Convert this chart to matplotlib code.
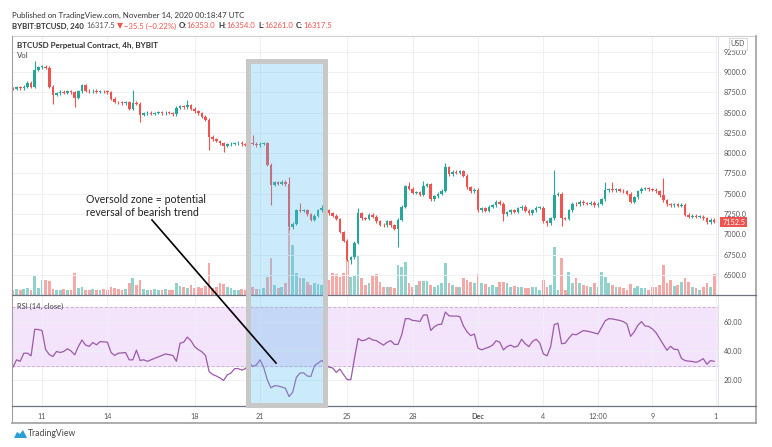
import numpy as np
import matplotlib
matplotlib.use("Agg")
import matplotlib.pyplot as plt
from matplotlib.patches import Rectangle, Polygon
from matplotlib.lines import Line2D

plt.rcParams['font.family'] = ['Lato', 'DejaVu Sans']

W, H = 772, 447

# BTCUSD 4h bars, first bar Nov 9 16:00 (x axis in day-of-November)
first_open = 8800
closes = [
    8790, 8810, 8800, 8820, 8870, 8820, 9030, 9060, 9065, 9050,
    8820, 8720, 8740, 8755, 8745, 8760, 8750, 8680, 8760, 8840,
    8770, 8760, 8770, 8755, 8765, 8760, 8750, 8670, 8630, 8625,
    8615, 8630, 8545, 8620, 8610, 8470, 8490, 8500, 8485, 8495,
    8505, 8490, 8500, 8495, 8480, 8560, 8575, 8565, 8590, 8545,
    8515, 8490, 8450, 8410, 8200, 8170, 8150, 8120, 8090, 8110,
    8115, 8120, 8130, 8110, 8105, 8125, 8115, 8100, 8115, 8120,
    7860, 7610, 7640, 7625, 7650, 7620, 7090, 7130, 7300, 7290,
    7300, 7250, 7180, 7230, 7300, 7320, 7300, 7260, 7230, 7190,
    7030, 6920, 6690, 6720, 6900, 7260, 7200, 7190, 7240, 7220,
    7160, 7120, 7110, 7160, 7110, 7070, 7180, 7340, 7590, 7560,
    7510, 7520, 7490, 7600, 7620, 7430, 7470, 7500, 7540, 7830,
    7740, 7770, 7760, 7775, 7720, 7580, 7530, 7550, 7300, 7320,
    7290, 7340, 7360, 7400, 7380, 7250, 7270, 7300, 7280, 7320,
    7340, 7290, 7260, 7300, 7330, 7330, 7160, 7140, 7200, 7485,
    7500, 7200, 7195, 7300, 7380, 7370, 7400, 7385, 7375, 7390,
    7360, 7380, 7430, 7545, 7550, 7545, 7555, 7540, 7530, 7500,
    7400, 7460, 7530, 7565, 7570, 7555, 7550, 7530, 7480, 7420,
    7370, 7360, 7370, 7355, 7365, 7240, 7220, 7230, 7215, 7220,
    7200, 7150, 7180, 7152.5,
]
wick_high = {6: 9135, 19: 8850, 33: 8780, 48: 8650, 66: 8230, 76: 7705,
             79: 7385, 85: 7360, 95: 7330, 109: 7645, 113: 7660, 119: 7880,
             149: 7790, 163: 7650, 165: 7640, 179: 7690}
wick_low = {11: 8600, 17: 8570, 35: 8380, 54: 8040, 58: 8010, 71: 7360,
            76: 7060, 93: 6640, 106: 6845, 135: 7160, 147: 7100, 151: 7100}
volumes = [
    5, 6, 5, 6, 7, 5, 20, 7, 15, 15,
    14, 6, 5, 5, 6, 5, 5, 22, 7, 8,
    5, 5, 6, 5, 5, 6, 5, 8, 7, 6,
    5, 6, 12, 17, 10, 15, 6, 5, 5, 6,
    5, 5, 6, 5, 5, 12, 9, 8, 7, 10,
    7, 8, 7, 9, 32, 7, 8, 12, 11, 8,
    7, 5, 5, 6, 5, 10, 8, 6, 6, 7,
    18, 37, 10, 7, 8, 12, 67, 50, 22, 17,
    17, 13, 10, 12, 11, 10, 7, 15, 22, 21,
    18, 22, 35, 18, 20, 40, 17, 10, 12, 19,
    21, 13, 8, 8, 8, 7, 30, 28, 33, 12,
    8, 10, 14, 14, 14, 10, 8, 10, 12, 32,
    12, 10, 8, 8, 17, 15, 13, 12, 21, 12,
    11, 8, 10, 8, 13, 13, 12, 8, 9, 8,
    8, 7, 7, 8, 8, 5, 15, 8, 10, 48,
    5, 37, 5, 23, 12, 17, 12, 10, 9, 8,
    12, 8, 23, 18, 12, 10, 8, 8, 7, 5,
    11, 7, 9, 7, 7, 5, 8, 8, 10, 30,
    12, 15, 9, 10, 13, 17, 13, 8, 7, 5,
    8, 12, 8, 21,
]
rsi = [
    29, 34, 33, 38.5, 38.5, 36.7, 54.8, 54.6, 54, 41,
    37.6, 36.3, 39.7, 39, 39.7, 41.5, 40, 37.4, 43, 47.5,
    44, 43.2, 45.8, 44.2, 46.4, 46.2, 46, 39, 37, 38.5,
    38.7, 39, 34, 34, 40.6, 33.6, 34, 33, 34, 35,
    36, 37, 38, 37.5, 37, 33, 45.3, 46, 49.5, 47,
    43, 41, 39.5, 37, 26, 24, 23, 21.6, 20, 23.8,
    25, 28, 28, 27, 28, 32, 29.5, 30.5, 34, 29,
    20.5, 15, 16.4, 16.2, 15.5, 14.6, 9, 12, 22, 25,
    25.2, 23, 22.7, 30, 31.8, 33.6, 31.2, 29, 28.5, 25.5,
    27.7, 24, 20.5, 20.5, 35, 48.5, 47, 47.5, 49, 47.5,
    47.1, 45.5, 44, 46, 47, 44.5, 44.5, 51, 62, 62,
    60.8, 60.6, 60, 64.5, 64.5, 54, 56.5, 58, 58.2, 66.5,
    64, 63.7, 63.8, 63.4, 57, 53, 50.5, 51.5, 42, 40.8,
    41.8, 42.6, 44, 47, 46, 40.8, 43, 44, 42.6, 43.5,
    48, 45, 43, 46.5, 48, 45.5, 38, 36.7, 43, 58,
    58.9, 45, 45.3, 48.7, 51.5, 51, 52.5, 53.9, 53.5, 53,
    52.3, 51.6, 56, 60.5, 62, 61.8, 61.3, 60.8, 60, 58.4,
    50, 53, 57.5, 60, 57, 56.7, 55, 52.5, 48.5, 44.5,
    40.5, 43.2, 41.2, 41, 35, 33.5, 33.1, 32.9, 32.3, 33.3,
    34.8, 31, 33.5, 33,
]
start_day = 9 + 16 / 24
bar_len = 4 / 24
time_ticks = [11, 14, 18, 21, 25, 28, 31, 34, 36.5, 39, 41.9]
time_labels = ['11', '14', '18', '21', '25', '28', 'Dec', '4', '12:00', '9', '1']
price_ticks = list(range(6500, 9251, 250))
rsi_ticks = [20, 40, 60]
last_price = 7152.5

# symbol line of the header: (text, colour, weight, gap after in px)
header_parts = [
    ('BYBIT:BTCUSD, 240', 'dark', 'bold', 3),
    ('16317.5', 'grey', 'normal', 1),
    ('\u25bc', 'red', 'normal', 1),
    ('\u221235.5 (\u22120.22%)', 'red', 'normal', 3),
    ('O:', 'dark', 'bold', 0), ('16353.0', 'red', 'normal', 3),
    ('H:', 'dark', 'bold', 0), ('16354.0', 'red', 'normal', 3),
    ('L:', 'dark', 'bold', 0), ('16261.0', 'red', 'normal', 3),
    ('C:', 'dark', 'bold', 0), ('16317.5', 'red', 'normal', 0),
]

UP, DOWN = '#26a69a', '#ef5350'
TXT = '#333333'
PALETTE = {'dark': TXT, 'grey': '#555555', 'red': DOWN}


def fx(x):
    return x / W


def fy(y):
    return 1 - y / H


def main():
    n = len(closes)
    t = start_day + bar_len * np.arange(n)
    c = np.array(closes, dtype=float)
    o = np.concatenate([[first_open], c[:-1]])
    hi = np.maximum(o, c) + 18
    lo = np.minimum(o, c) - 18
    for k, v in wick_high.items():
        hi[k] = v
    for k, v in wick_low.items():
        lo[k] = v
    cols = np.where(c >= o, UP, DOWN)

    fig = plt.figure(figsize=(W / 100, H / 100), dpi=100)
    fig.patch.set_facecolor('white')

    ax = fig.add_axes([fx(12), fy(295), 706 / W, 259 / H])
    axv = ax.twinx()
    ax.set_zorder(axv.get_zorder() + 1)
    ax.patch.set_visible(False)

    ## Volume
    axv.bar(t, volumes, width=bar_len * 0.75, color=cols, alpha=0.5, linewidth=0)
    axv.set_ylim(0, 259)
    axv.set_yticks([])
    for s in axv.spines.values():
        s.set_visible(False)

    ## Candles
    ax.vlines(t, lo, hi, colors=cols, linewidth=0.8)
    body = np.maximum(np.abs(c - o), 8)
    ax.bar(t, body, bottom=np.minimum(o, c), width=bar_len * 0.72, color=cols, linewidth=0)

    ax.set_xlim(9.624, 42.01)
    ax.set_ylim(6254, 9443)
    ax.set_xticks(time_ticks)
    ax.set_xticklabels([])
    ax.yaxis.tick_right()
    ax.set_yticks(price_ticks)
    ax.set_yticklabels(['%.1f' % p for p in price_ticks])
    ax.tick_params(axis='both', length=0, labelsize=5.2, labelcolor='#555555', pad=4)
    ax.grid(color='#eef0f5', linewidth=0.7)
    ax.set_axisbelow(True)
    for s in ax.spines.values():
        s.set_visible(False)

    ax.text(1.006, last_price, '%.1f' % last_price, transform=ax.get_yaxis_transform(),
            fontsize=5.2, color='white', va='center', ha='left',
            bbox=dict(boxstyle='square,pad=0.25', fc=DOWN, ec='none'))

    ## RSI
    ar = fig.add_axes([fx(12), fy(406), 706 / W, 111 / H])
    ar.axhspan(30, 70, color='#f3e3fb', zorder=0)
    ar.axhline(70, color='#c8b3d2', linewidth=0.7, dashes=(3, 2))
    ar.axhline(30, color='#c8b3d2', linewidth=0.7, dashes=(3, 2))
    ar.plot(t, rsi, color='#9c5aa8', linewidth=0.9)
    ar.set_xlim(9.624, 42.01)
    ar.set_ylim(2.6, 78.1)
    ar.yaxis.tick_right()
    ar.set_yticks(rsi_ticks)
    ar.set_yticklabels(['%.2f' % v for v in rsi_ticks])
    ar.set_xticks(time_ticks)
    ar.set_xticklabels(time_labels)
    ar.get_xticklabels()[6].set_fontweight('bold')
    ar.tick_params(axis='both', length=0, labelsize=5.2, labelcolor='#555555', pad=4)
    ar.tick_params(axis='x', pad=5)
    ar.grid(color='#eef0f5', linewidth=0.7)
    ar.set_axisbelow(True)
    for s in ar.spines.values():
        s.set_visible(False)
    ar.text(5 / 706, 0.9, 'RSI (14, close)', transform=ar.transAxes, fontsize=5.4,
            color='#444444', va='center')

    ## Frame lines
    def line(x0, y0, x1, y1, color, lw=0.8, z=3):
        fig.add_artist(Line2D([fx(x0), fx(x1)], [fy(y0), fy(y1)], color=color,
                              linewidth=lw, zorder=z))

    line(12, 36, 756, 36, '#d0d0d0')
    line(12, 36, 12, 423, '#a0a0a0')
    line(756, 36, 756, 423, '#a0a0a0', lw=1.2)
    line(12, 423, 756, 423, '#a0a0a0', lw=1.2)
    line(718, 36, 718, 406, '#e0e3eb')
    line(12, 295, 756, 295, '#6f7280', lw=0.9)
    line(12, 406, 756, 406, '#6f7280', lw=0.9)

    ## Highlight box and annotation
    fig.add_artist(Rectangle((fx(248.5), fy(404.5)), 76 / W, 344 / H,
                             facecolor=(0.35, 0.74, 0.94, 0.3), edgecolor='#c8c8c8',
                             linewidth=3.6, zorder=5))
    line(152, 220, 276, 363, 'black', lw=1.2, z=6)
    fig.text(fx(86), fy(194), 'Oversold zone = potential\nreversal of bearish trend',
             fontsize=7.6, color='#222222', va='top', ha='left', linespacing=1.25)

    ## Header
    fig.text(fx(12), fy(15), 'Published on TradingView.com, November 14, 2020 00:18:47 UTC',
             fontsize=5.7, color='#333333', va='center')
    renderer = fig.canvas.get_renderer()
    x = 12
    for s, col, wt, gap in header_parts:
        tx = fig.text(fx(x), fy(26), s, fontsize=5.6, color=PALETTE[col], fontweight=wt,
                      va='center', family=['Lato', 'DejaVu Sans'])
        x = tx.get_window_extent(renderer).x1 + gap
    fig.text(fx(17), fy(45), 'BTCUSD Perpetual Contract, 4h, BYBIT', fontsize=5.8,
             color=TXT, fontweight='bold', va='center')
    fig.text(fx(17), fy(55), 'Vol', fontsize=5.6, color='#444444', va='center')
    fig.text(fx(738), fy(44), 'USD', fontsize=5, color='#555555', va='center', ha='center',
             bbox=dict(boxstyle='square,pad=0.3', fc='white', ec='#d0d0d0', lw=0.6))

    ## TradingView logo
    fig.add_artist(Polygon([(fx(14), fy(438)), (fx(17), fy(432)), (fx(20), fy(434)),
                            (fx(23), fy(430)), (fx(27), fy(438))],
                           closed=True, fc='#2a9cd8', ec='none'))
    fig.text(fx(28), fy(434), 'TradingView', fontsize=6.2, color='#444444', va='center')

    fig.savefig('out.png', dpi=100, facecolor='white')


if __name__ == "__main__":
    main()
